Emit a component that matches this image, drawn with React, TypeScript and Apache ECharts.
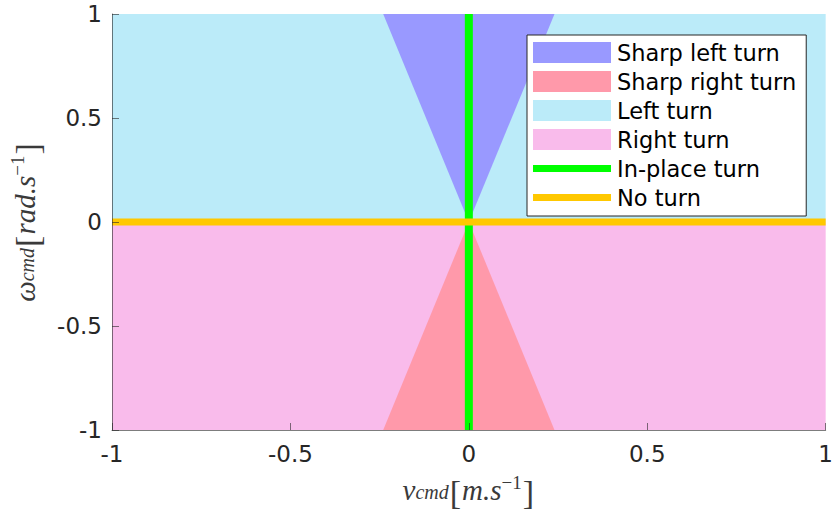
import React, { useEffect, useRef } from "react";
import * as echarts from "echarts";

const xTicks = [-1, -0.5, 0, 0.5, 1];
const yTicks = [-1, -0.5, 0, 0.5, 1];

const leftTurn: number[][] = [[-1, 0], [1, 0], [1, 1], [-1, 1]];
const rightTurn: number[][] = [[-1, 0], [1, 0], [1, -1], [-1, -1]];
const sharpLeft: number[][] = [[0, 0], [-0.24, 1], [0.24, 1]];
const sharpRight: number[][] = [[0, 0], [-0.24, -1], [0.24, -1]];
const inPlace: number[][] = [[0, -1], [0, 1]];
const noTurn: number[][] = [[-1, 0], [1, 0]];

const names = ["Sharp left turn", "Sharp right turn", "Left turn", "Right turn", "In-place turn", "No turn"];
const colors = {
  sharpLeft: "#9999FF",
  sharpRight: "#FF99AA",
  left: "#BBEBF9",
  right: "#F9BBEB",
  inPlace: "#00FF00",
  noTurn: "#FFC800",
};

function polySeries(name: string, data: number[][], color: string) {
  return {
    type: "custom",
    name,
    data,
    encode: { x: 0, y: 1 },
    itemStyle: { color },
    silent: true,
    renderItem: (params: any, api: any) => {
      if (params.dataIndex !== 0) return null;
      const pts = data.map((p) => api.coord(p));
      return { type: "polygon", shape: { points: pts }, style: { fill: color } };
    },
  };
}

const lc = "#3a3a3a";
const mathRich = {
  m: { fontFamily: "Liberation Serif", fontStyle: "italic", fontSize: 29, color: lc, padding: [0, 0, 5, 0] },
  b: { fontFamily: "Liberation Serif", fontSize: 34, color: lc, padding: [0, 1, 0, 1] },
  s: { fontFamily: "Liberation Serif", fontStyle: "italic", fontSize: 20, color: lc },
  p: { fontFamily: "Liberation Serif", fontSize: 19, color: lc, padding: [0, 0, 19, 0] },
};

const lineIcon = "path://M0,0 L78,0 L78,7 L0,7 Z";

export default function App() {
  const ref = useRef<HTMLDivElement>(null);
  useEffect(() => {
    const chart = echarts.init(ref.current!, null, { renderer: "svg" });
    const axisCommon = {
      type: "value",
      min: -1,
      max: 1,
      interval: 0.5,
      z: 5,
      splitLine: { show: false },
      axisLine: { show: true, onZero: false, lineStyle: { color: "rgba(38,38,38,0.6)", width: 1 } },
      axisTick: { show: true, inside: true, length: 7, lineStyle: { color: "rgba(38,38,38,0.6)" } },
      axisLabel: { fontFamily: "DejaVu Sans", fontSize: 23, color: "#262626", margin: 10, formatter: (v: number) => String(v) },
      nameLocation: "middle",
    };
    chart.setOption({
      animation: false,
      grid: { left: 110, right: 6, top: 14, bottom: 82 },
      xAxis: {
        ...axisCommon,
        axisLabel: { ...axisCommon.axisLabel, margin: 12 },
        name: "{m|v}{s|cmd}{b|[}{m|m.s}{p|−1}{b|]}",
        nameGap: 43,
        nameTextStyle: { rich: mathRich },
      },
      yAxis: {
        ...axisCommon,
        name: "{m|ω}{s|cmd}{b|[}{m|rad.s}{p|−1}{b|]}",
        nameGap: 66,
        nameRotate: 90,
        nameTextStyle: { rich: mathRich },
      },
      legend: {
        data: [
          { name: names[0], icon: "rect" },
          { name: names[1], icon: "rect" },
          { name: names[2], icon: "rect" },
          { name: names[3], icon: "rect" },
          { name: names[4], icon: lineIcon },
          { name: names[5], icon: lineIcon },
        ],
        orient: "vertical",
        left: 527,
        top: 35,
        padding: [6, 10, 7, 6],
        itemWidth: 78,
        itemHeight: 21,
        itemGap: 6,
        symbolKeepAspect: true,
        backgroundColor: "#fff",
        borderColor: "#262626",
        borderWidth: 1,
        borderRadius: 0,
        selectedMode: false,
        textStyle: { fontFamily: "DejaVu Sans", fontSize: 22.5, color: "#000", padding: [0, 0, 0, 1] },
      },
      series: [
        polySeries(names[2], leftTurn, colors.left),
        polySeries(names[3], rightTurn, colors.right),
        polySeries(names[0], sharpLeft, colors.sharpLeft),
        polySeries(names[1], sharpRight, colors.sharpRight),
        {
          type: "line",
          name: names[4],
          data: inPlace,
          symbol: "none",
          silent: true,
          itemStyle: { color: colors.inPlace },
          lineStyle: { color: colors.inPlace, width: 8, cap: "butt" },
          z: 3,
        },
        {
          type: "line",
          name: names[5],
          data: noTurn,
          symbol: "none",
          silent: true,
          itemStyle: { color: colors.noTurn },
          lineStyle: { color: colors.noTurn, width: 7, cap: "butt" },
          z: 4,
        },
      ],
    });
    return () => chart.dispose();
  }, []);
  return <div ref={ref} style={{ width: 836, height: 514, position: "absolute", left: 0, top: 0 }} />;
}
